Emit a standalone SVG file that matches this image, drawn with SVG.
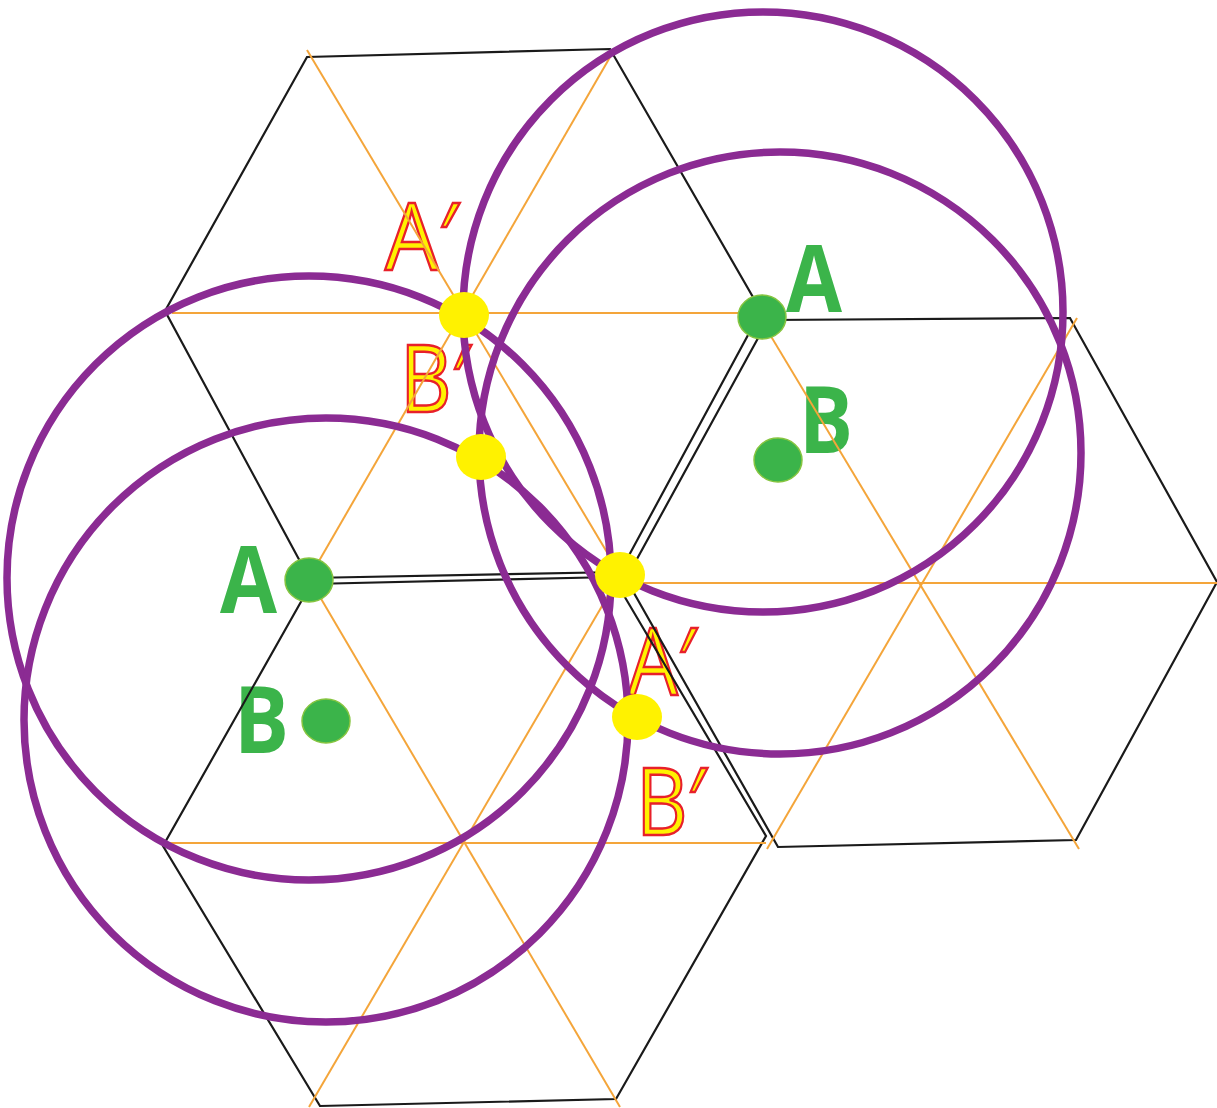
<svg xmlns="http://www.w3.org/2000/svg" width="1217" height="1108" viewBox="0 0 1217 1108">
<style>
.hex{fill:none;stroke:#1a1a1a;stroke-width:2.2;stroke-linejoin:miter}
.grid{fill:none;stroke:#f4a53a;stroke-width:2}
.ring{fill:none;stroke:#8b2b93;stroke-width:7.5}
.gdot{fill:#3bb44a;stroke:#86c540;stroke-width:1.5}
.ydot{fill:#fff200}
.glab{font-family:"Open Sans","Noto Sans",sans-serif;font-weight:700;font-size:94px;fill:#3bb44a}
.ylab{font-family:"Open Sans","Noto Sans","DejaVu Sans",sans-serif;font-weight:500;font-size:94px;fill:#fff200;stroke:#e8202a;stroke-width:2.5}
</style>
<rect width="1217" height="1108" fill="#ffffff"/>
<g id="labels-green">
<text class="glab" x="786" y="312" textLength="56" lengthAdjust="spacingAndGlyphs">A</text>
<text class="glab" x="799" y="453" textLength="54" lengthAdjust="spacingAndGlyphs">B</text>
<text class="glab" x="220" y="613" textLength="57" lengthAdjust="spacingAndGlyphs">A</text>
<text class="glab" x="234" y="753" textLength="55" lengthAdjust="spacingAndGlyphs">B</text>
</g>
<g id="labels-prime">
<text class="ylab" x="385" y="270" textLength="73" lengthAdjust="spacingAndGlyphs">A′</text>
<text class="ylab" x="400" y="412" textLength="70" lengthAdjust="spacingAndGlyphs">B′</text>
<text class="ylab" x="628" y="695" textLength="68" lengthAdjust="spacingAndGlyphs">A′</text>
<text class="ylab" x="636" y="835" textLength="70" lengthAdjust="spacingAndGlyphs">B′</text>
</g>
<g id="hex-top">
<polygon class="hex" points="165,311 307,57 610,49 761,311 620,572 309,578"/>
<line class="grid" x1="172" y1="313" x2="762" y2="313"/>
<line class="grid" x1="307" y1="50" x2="620" y2="574"/>
<line class="grid" x1="613" y1="52" x2="308" y2="580"/>
</g>
<g id="hex-right">
<polygon class="hex" points="626,579 768,320 1070,318 1217,582 1076,840 778,847"/>
<line class="grid" x1="620" y1="583" x2="1217" y2="583"/>
<line class="grid" x1="760" y1="318" x2="1079" y2="849"/>
<line class="grid" x1="1077" y1="318" x2="767" y2="849"/>
</g>
<g id="hex-bottom">
<polygon class="hex" points="311,584 613,577 766,836 616,1099 320,1106 163,846"/>
<line class="grid" x1="170" y1="843" x2="766" y2="843"/>
<line class="grid" x1="310" y1="580" x2="620" y2="1107"/>
<line class="grid" x1="619" y1="577" x2="309" y2="1107"/>
</g>
<g id="circles">
<circle class="ring" cx="763" cy="312" r="300"/>
<circle class="ring" cx="780" cy="453" r="301"/>
<circle class="ring" cx="309" cy="578" r="302"/>
<circle class="ring" cx="326" cy="720" r="302"/>
</g>
<g id="points-green">
<ellipse class="gdot" cx="762" cy="317" rx="24" ry="22"/>
<ellipse class="gdot" cx="778" cy="460" rx="24" ry="22"/>
<ellipse class="gdot" cx="309" cy="580" rx="24" ry="22"/>
<ellipse class="gdot" cx="326" cy="721" rx="24" ry="22"/>
</g>
<g id="points-yellow">
<ellipse class="ydot" cx="464" cy="315" rx="25" ry="23"/>
<ellipse class="ydot" cx="481" cy="457" rx="25" ry="23"/>
<ellipse class="ydot" cx="620" cy="575" rx="25" ry="23"/>
<ellipse class="ydot" cx="637" cy="717" rx="25" ry="23"/>
</g>
</svg>
